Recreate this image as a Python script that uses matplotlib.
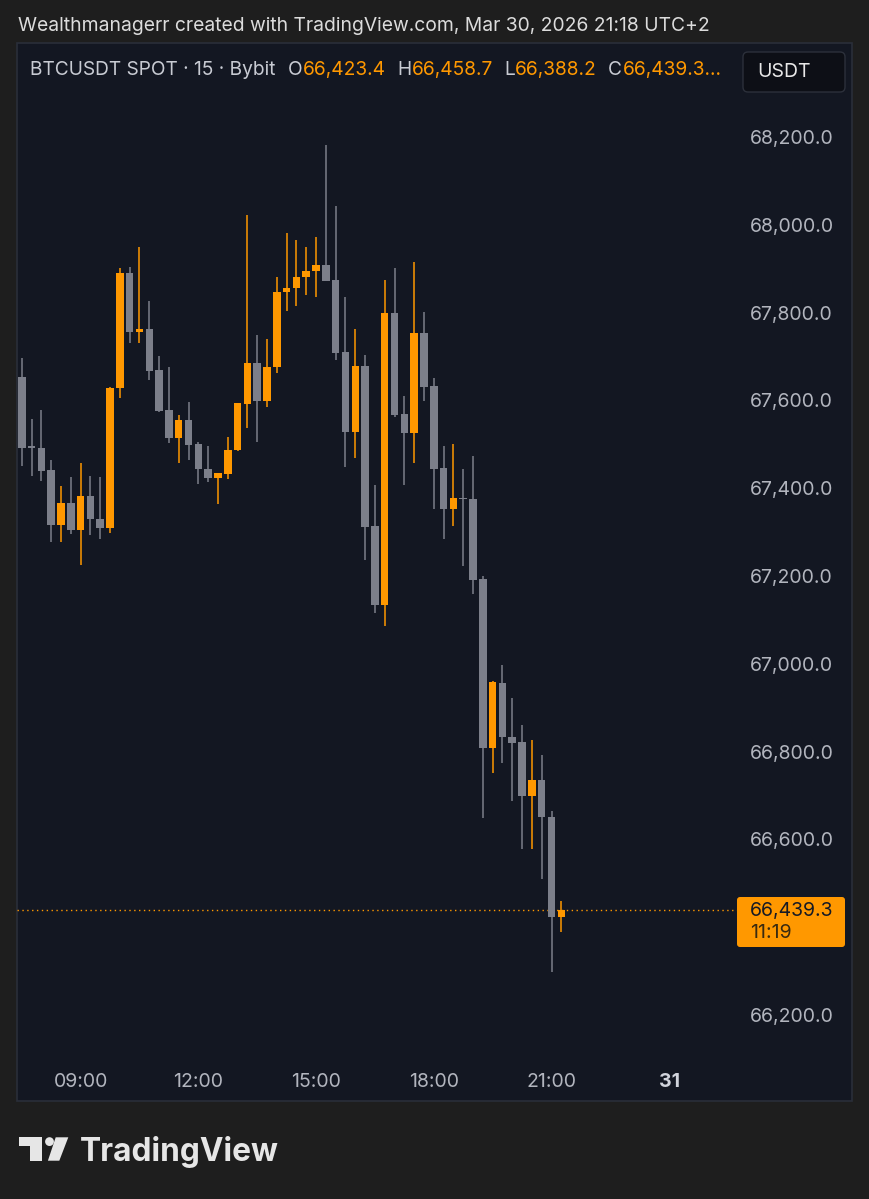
import matplotlib
matplotlib.use("Agg")
import matplotlib.pyplot as plt
from matplotlib.patches import Rectangle, FancyBboxPatch, Circle, Polygon
import matplotlib.dates as mdates
import numpy as np
import pandas as pd

# ---------------- data (BTCUSDT 15m, Bybit) ----------------
start_time = "2026-03-30 07:30"
n_candles = 56
opens = [67654, 67495, 67491, 67442, 67316, 67366, 67305, 67383, 67329, 67310,
         67628, 67890, 67755, 67763, 67669, 67578, 67514, 67555, 67501, 67444,
         67423, 67432, 67487, 67592, 67686, 67599, 67675, 67848, 67855, 67880,
         67895, 67909, 67874, 67711, 67529, 67679, 67314, 67134, 67800, 67569,
         67526, 67754, 67633, 67445, 67353, 67377, 67375, 67194, 66809, 66956,
         66833, 66821, 66700, 66736, 66650, 66423.4]
highs = [67697, 67558, 67578, 67464, 67404, 67426, 67458, 67428, 67426, 67631,
         67901, 67905, 67949, 67827, 67700, 67676, 67567, 67597, 67506, 67495,
         67435, 67516, 67594, 68022, 67749, 67739, 67882, 67981, 67965, 67949,
         67972, 68182, 68043, 67836, 67762, 67703, 67407, 67874, 67901, 67610,
         67916, 67802, 67650, 67495, 67501, 67443, 67474, 67199, 66960, 66998,
         66922, 66860, 66826, 66793, 66665, 66458.7]
lows = [67451, 67428, 67417, 67277, 67278, 67296, 67225, 67293, 67284, 67299,
        67605, 67730, 67730, 67647, 67574, 67502, 67457, 67464, 67409, 67414,
        67364, 67420, 67485, 67537, 67506, 67584, 67662, 67804, 67815, 67839,
        67836, 67873, 67692, 67449, 67468, 67237, 67115, 67087, 67562, 67407,
        67458, 67599, 67353, 67284, 67315, 67222, 67159, 66648, 66752, 66773,
        66687, 66579, 66579, 66509, 66299, 66388.2]
closes = [67491, 67492, 67440, 67316, 67366, 67305, 67383, 67329, 67310, 67628,
          67890, 67755, 67763, 67668, 67576, 67514, 67555, 67498, 67444, 67423,
          67434, 67487, 67593, 67686, 67599, 67677, 67848, 67855, 67880, 67895,
          67909, 67873, 67709, 67529, 67679, 67312, 67134, 67800, 67567, 67526,
          67754, 67631, 67444, 67353, 67377, 67375, 67192, 66809, 66958, 66833,
          66819, 66700, 66736, 66650, 66423, 66439.3]
last_price = 66439.3
countdown = "11:19"
price_ticks = [66200, 66600, 66800, 67000, 67200, 67400, 67600, 67800, 68000, 68200]
time_ticks = ["2026-03-30 09:00", "2026-03-30 12:00", "2026-03-30 15:00",
              "2026-03-30 18:00", "2026-03-30 21:00", "2026-03-31 00:00"]
time_labels = ["09:00", "12:00", "15:00", "18:00", "21:00", "31"]
title_line = "Wealthmanagerr created with TradingView.com, Mar 30, 2026 21:18 UTC+2"
symbol_text = "BTCUSDT SPOT · 15 · Bybit"
ohlc_letters = ["O", "H", "L", "C"]
ohlc_values = ["66,423.4", "66,458.7", "66,388.2", "66,439.3..."]

# ---------------- style ----------------
W, H = 869, 1199
BG = "#1e1e1e"
PANE = "#131722"
BORDER = "#2a2e39"
ORANGE = "#ff9800"
GRAY = "#7c7f8a"
AXTXT = "#b2b5be"
FONT = "Inter"
FS = 14.0
plt.rcParams["font.family"] = [FONT, "DejaVu Sans"]

fig = plt.figure(figsize=(W / 100, H / 100), dpi=100)
fig.patch.set_facecolor(BG)

# background / decoration axes in pixel coordinates
bg = fig.add_axes([0, 0, 1, 1], zorder=0)
bg.set_xlim(0, W); bg.set_ylim(H, 0); bg.axis("off")
bg.add_patch(Rectangle((17, 43), 852 - 17, 1101 - 43, facecolor=PANE,
                       edgecolor=BORDER, lw=1.2))

# main price axes
L_PX, R_PX, T_PX, B_PX = 17, 737, 43, 1058
ax = fig.add_axes([L_PX / W, 1 - B_PX / H, (R_PX - L_PX) / W, (B_PX - T_PX) / H], zorder=1)
ax.set_facecolor("none")
for s in ax.spines.values():
    s.set_visible(False)

times = pd.date_range(start_time, periods=n_candles, freq="15min")
o = np.array(opens, float); h = np.array(highs, float)
l = np.array(lows, float); c = np.array(closes, float)
up = c >= o
colors = np.where(up, ORANGE, GRAY)

px_per_min = 9.81 / 15.0
t21 = pd.Timestamp("2026-03-30 21:00")
x21 = 551.5
xl = t21 - pd.Timedelta(minutes=(x21 - L_PX) / px_per_min)
xr = t21 + pd.Timedelta(minutes=(R_PX - x21) / px_per_min)
ax.set_xlim(mdates.date2num(xl), mdates.date2num(xr))
# price(y_px) = 68512.07 - 2.2779*y_px
ax.set_ylim(68512.07 - 2.2779 * B_PX, 68512.07 - 2.2779 * T_PX)

tnum = mdates.date2num(times)
body_w = 11.5 / 1440.0
ax.vlines(tnum, l, h, colors=colors, lw=1.1, zorder=2)
body = c - o
min_h = 2.6
body = np.where(np.abs(body) < min_h, np.where(up, min_h, -min_h), body)
ax.bar(tnum, body, bottom=o, width=body_w, color=colors, lw=0, zorder=3)

ax.axhline(last_price, color=ORANGE, lw=1.0, ls=(0, (1, 2.5)), zorder=1)

ax.yaxis.tick_right()
ax.set_yticks(price_ticks)
ax.set_yticklabels([f"{v:,.1f}" for v in price_ticks])
ax.tick_params(axis="y", length=0, pad=9.5, labelsize=FS, labelcolor=AXTXT)
ax.set_xticks(mdates.date2num(pd.to_datetime(time_ticks)))
ax.set_xticklabels(time_labels)
ax.tick_params(axis="x", length=0, pad=11, labelsize=FS, labelcolor=AXTXT)
for lab in ax.get_xticklabels():
    if lab.get_text() == "31":
        lab.set_fontweight("bold")
        lab.set_color("#d1d4dc")

# foreground decoration axes (pixel coordinates)
fg = fig.add_axes([0, 0, 1, 1], zorder=5)
fg.set_xlim(0, W); fg.set_ylim(H, 0); fg.axis("off")
fg.patch.set_alpha(0)
renderer = fig.canvas.get_renderer()

def width_px(t):
    return t.get_window_extent(renderer=renderer).width

# last price label
fg.add_patch(FancyBboxPatch((737, 897), 108, 50, boxstyle="round,pad=0,rounding_size=3",
                            facecolor=ORANGE, edgecolor="none"))
fg.text(750, 911, f"{last_price:,.1f}", color="#161a25", fontsize=FS, va="center", ha="left")
fg.text(750, 933, countdown, color="#3a2a10", fontsize=FS, va="center", ha="left")

# USDT box
fg.add_patch(FancyBboxPatch((743, 52), 102, 40, boxstyle="round,pad=0,rounding_size=5",
                            facecolor="#0d0f16", edgecolor="#2c303b", lw=1))
fg.text(757, 72, "USDT", color="#e8e8e8", fontsize=FS, va="center", ha="left")

# header lines
fg.text(18, 26, title_line, color="#dcdcdc", fontsize=13.9, va="center", ha="left")
st = fg.text(30.5, 70, symbol_text, color="#c8cbd3", fontsize=13.8, va="center", ha="left")
x = 30.5 + width_px(st) + 12
for lt, vt in zip(ohlc_letters, ohlc_values):
    t1 = fg.text(x, 70, lt, color="#c8cbd3", fontsize=13.8, va="center", ha="left")
    x += width_px(t1) + 0.5
    t2 = fg.text(x, 70, vt, color=ORANGE, fontsize=13.8, va="center", ha="left")
    x += width_px(t2) + 11

# TradingView logo
LOGO = "#e6e6e6"
fg.add_patch(Polygon([(19.3, 1137.3), (41.7, 1137.3), (41.7, 1160.7), (30, 1160.7),
                      (30, 1146), (19.3, 1146)], closed=True, facecolor=LOGO, edgecolor="none"))
fg.add_patch(Circle((49.5, 1141.6), 4.4, facecolor=LOGO, edgecolor="none"))
fg.add_patch(Polygon([(55.7, 1137.3), (68.3, 1137.3), (59.3, 1160.7), (47.9, 1160.7)],
                     closed=True, facecolor=LOGO, edgecolor="none"))
fg.text(80, 1160.7, "TradingView", color=LOGO, fontsize=22.8, fontweight="bold",
        va="baseline", ha="left")

fig.savefig("out.png", dpi=100, facecolor=BG)
